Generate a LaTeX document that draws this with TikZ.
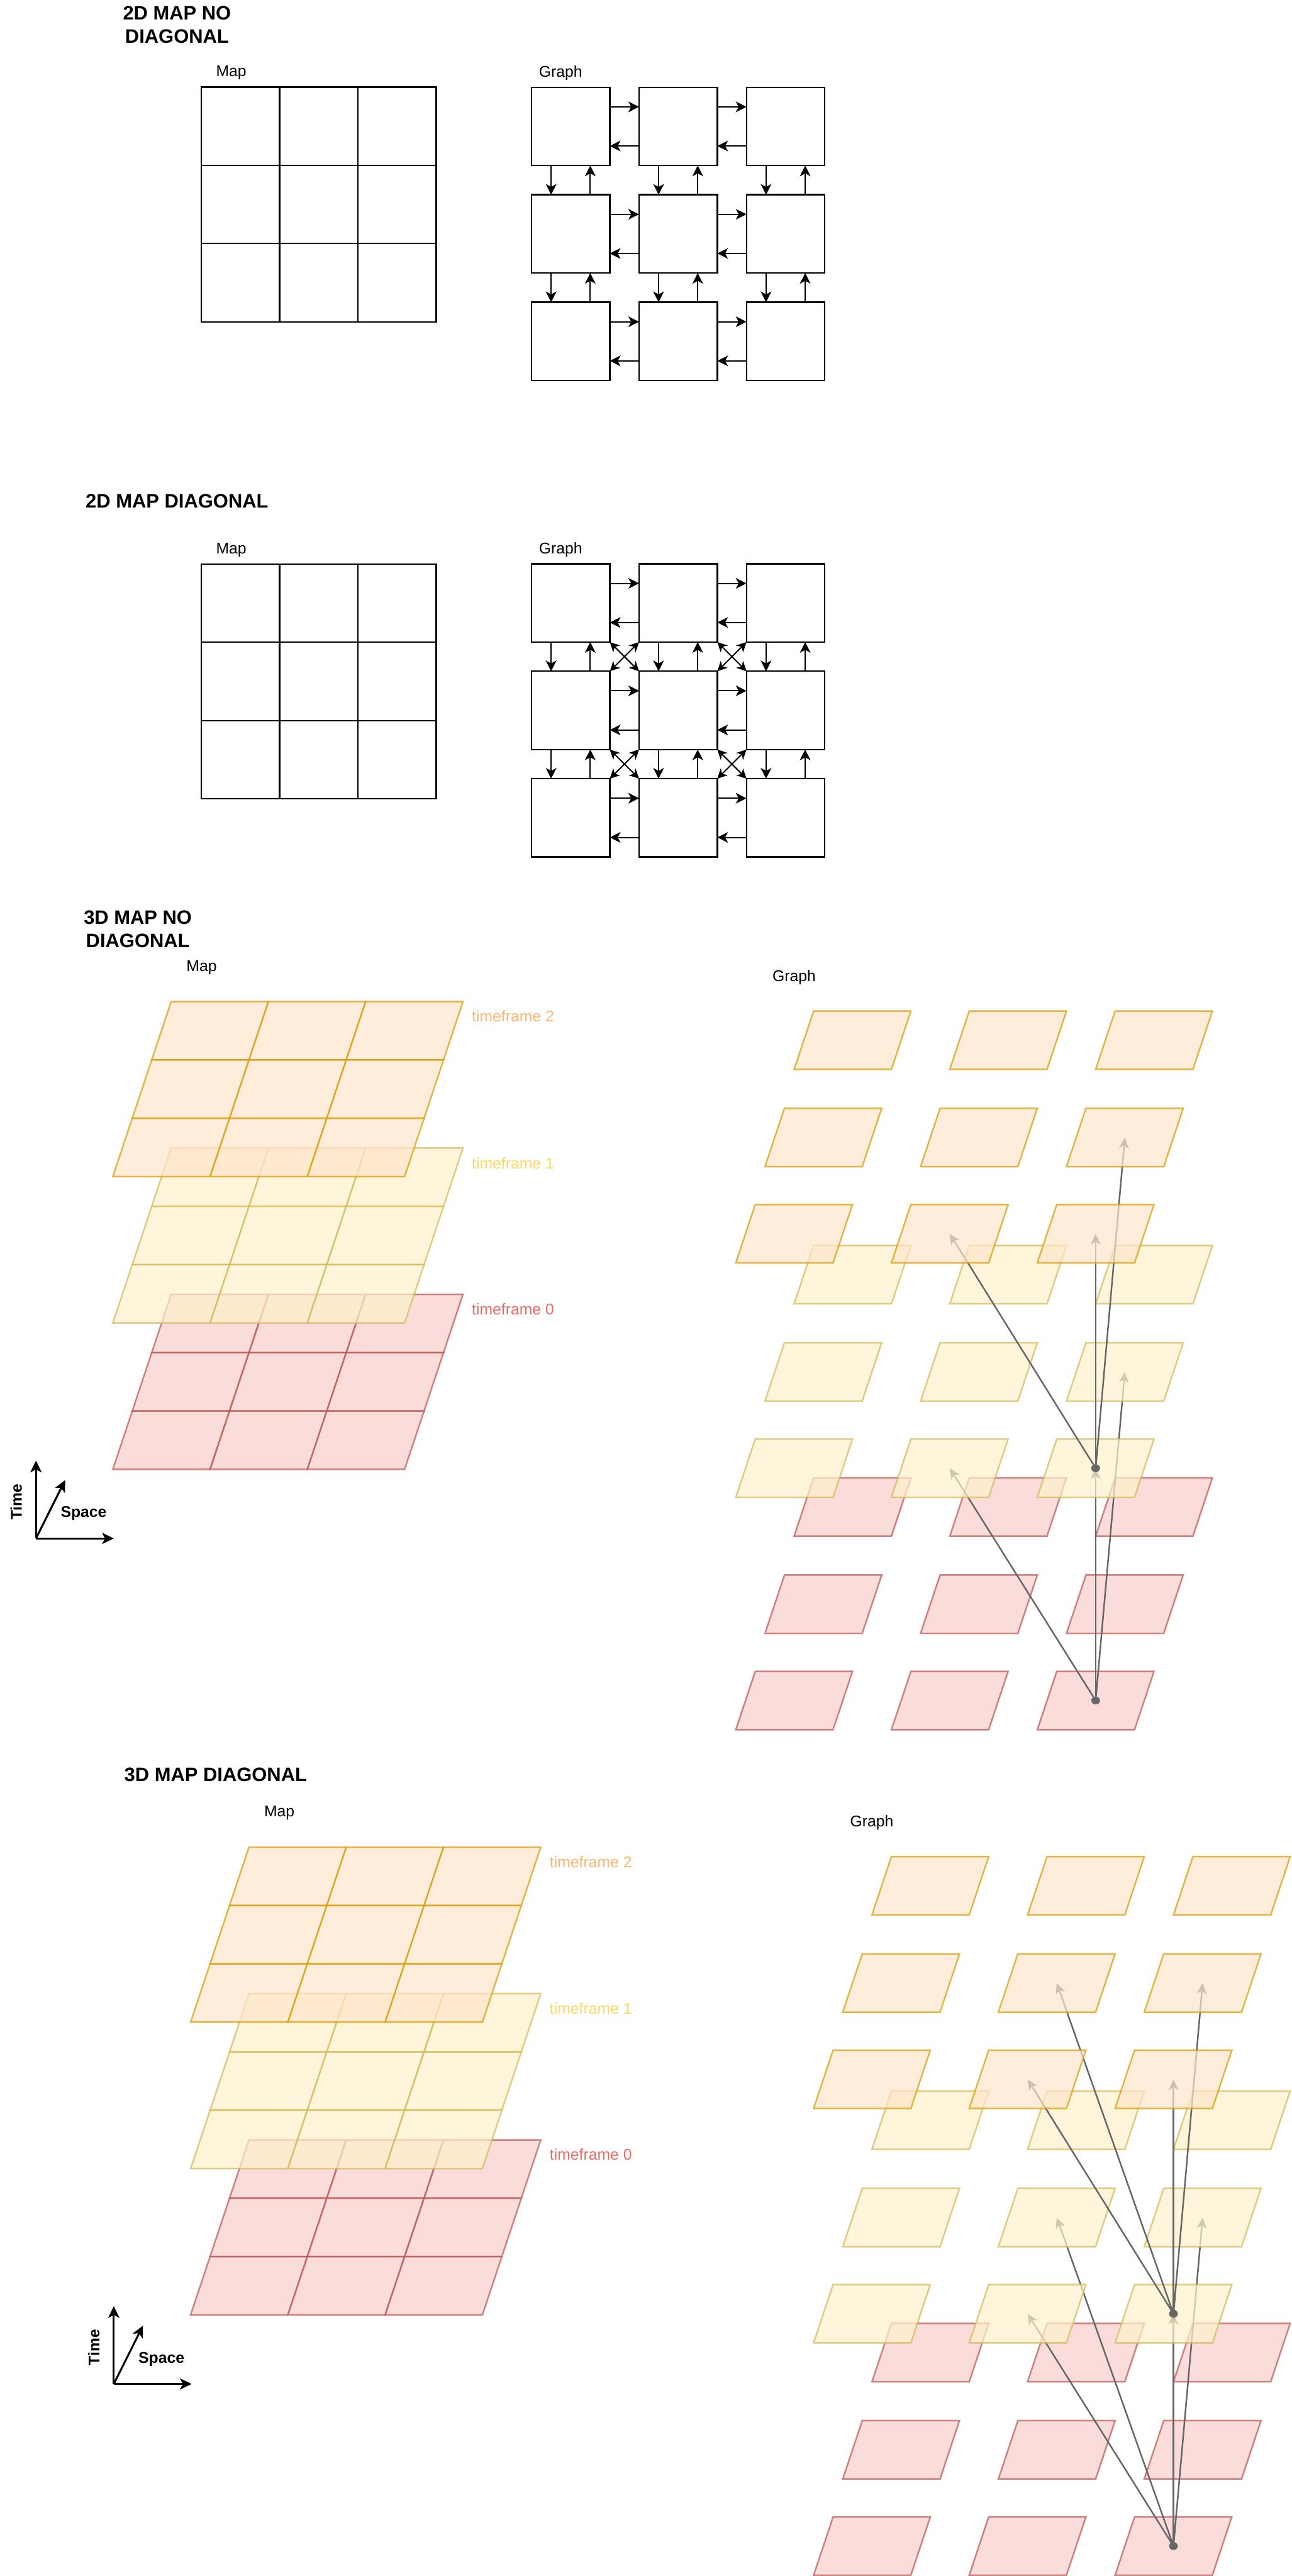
\documentclass[tikz,border=0pt]{standalone}
\usepackage{fontspec}
\setmainfont{Liberation Sans}
\usetikzlibrary{arrows.meta,calc}
\definecolor{ofill}{HTML}{FFE6CC}\definecolor{ostroke}{HTML}{D79B00}
\definecolor{yfill}{HTML}{FFF2CC}\definecolor{ystroke}{HTML}{D6B656}
\definecolor{rfill}{HTML}{F8CECC}\definecolor{rstroke}{HTML}{B85450}
\definecolor{tftwo}{HTML}{FFB570}\definecolor{tfone}{HTML}{FFD966}\definecolor{tfzero}{HTML}{EA6B66}
\definecolor{gline}{HTML}{666666}
\tikzset{
 lbl/.style={font=\fontsize{16}{19}\selectfont, inner sep=0pt, anchor=west, text=black},
 ttl/.style={font=\fontsize{20}{24}\selectfont\bfseries, align=center, inner sep=0pt},
 gbox/.style={draw=black, fill=white, line width=1.5pt, minimum size=80.5pt, inner sep=0pt, outer sep=0pt},
 mapline/.style={draw=black, line width=1.5pt},
 arr/.style={draw=black, line width=1.3pt, -{Stealth[length=11pt,width=11pt,inset=3pt]}},
 darr/.style={draw=black, line width=1.3pt, {Stealth[length=10pt,width=10pt,inset=3pt]}-{Stealth[length=10pt,width=10pt,inset=3pt]}},
 cellst/.style={line width=1.6pt, opacity=0.7, line join=miter},
 garr/.style={draw=gline, line width=1.6pt, -{Stealth[length=11pt,width=10pt,inset=3pt]}},
 axarr/.style={draw=black, line width=2pt, -{Stealth[length=12pt,width=11.5pt,inset=3pt]}},
 axlbl/.style={font=\fontsize{16}{19}\selectfont\bfseries, inner sep=0pt},
}
% 2D graph: #1 prefix, #2 y offset, #3 diagonal flag
\newcommand\twodgraph[3]{%
 \foreach \rI in {0,1,2}{\foreach \cI in {0,1,2}{%
   \node[gbox] (#1\rI\cI) at ({586.75+110.5*\cI},{130+#2+110.5*\rI}) {};}}
 \foreach \rI in {0,1,2}{\foreach \cI [evaluate=\cI as \cJ using {int(\cI+1)}] in {0,1}{%
   \draw[arr] ($(#1\rI\cI.north east)!.25!(#1\rI\cI.south east)$) -- ($(#1\rI\cJ.north west)!.25!(#1\rI\cJ.south west)$);
   \draw[arr] ($(#1\rI\cJ.north west)!.75!(#1\rI\cJ.south west)$) -- ($(#1\rI\cI.north east)!.75!(#1\rI\cI.south east)$);}}
 \foreach \rI [evaluate=\rI as \rJ using {int(\rI+1)}] in {0,1}{\foreach \cI in {0,1,2}{%
   \draw[arr] ($(#1\rI\cI.south west)!.25!(#1\rI\cI.south east)$) -- ($(#1\rJ\cI.north west)!.25!(#1\rJ\cI.north east)$);
   \draw[arr] ($(#1\rJ\cI.north west)!.75!(#1\rJ\cI.north east)$) -- ($(#1\rI\cI.south west)!.75!(#1\rI\cI.south east)$);}}
 \ifnum#3=1
 \foreach \rI [evaluate=\rI as \rJ using {int(\rI+1)}] in {0,1}{\foreach \cI [evaluate=\cI as \cJ using {int(\cI+1)}] in {0,1}{%
   \draw[darr] (#1\rI\cI.south east) -- (#1\rJ\cJ.north west);
   \draw[darr] (#1\rI\cJ.south west) -- (#1\rJ\cI.north east);}}
 \fi
}
% 2D map grid
\newcommand\twodmap[1]{%
 \foreach \mi in {0,1,2}{\foreach \mj in {0,1,2}{%
   \draw[mapline] ({207+80.5*\mj},{#1+80.5*\mi}) rectangle ++(80.5,80.5);}}}
% 3D map layer: #1 top y, #2 fill, #3 stroke
\newcommand\mlayer[3]{%
 \foreach \mi in {0,1,2}{\foreach \mj in {0,1,2}{%
   \path[cellst, fill=#2, draw=#3] ({176-20*\mi+100*\mj},{#1+60*\mi}) -- ++(100,0) -- ++(-20,60) -- ++(-100,0) -- cycle;}}}
% 3D graph cell centres: #1 prefix, #2 layer letter, #3 top y
\newcommand\gcoords[3]{%
 \foreach \mi/\dy/\rx in {0/0/836.5,1/100/806.5,2/199/776.5}{\foreach \mj/\cx in {0/0,1/160,2/310}{%
   \coordinate (#1#2\mi\mj) at ({\rx+\cx+40},{#3+\dy+30});}}}
% 3D graph layer cells: #1 top y, #2 fill, #3 stroke
\newcommand\glayer[3]{%
 \foreach \mi/\dy/\rx in {0/0/836.5,1/100/806.5,2/199/776.5}{\foreach \mj/\cx in {0/0,1/160,2/310}{%
   \path[cellst, fill=#2, draw=#3] ({\rx+\cx},{#1+\dy}) -- ++(100,0) -- ++(-20,60) -- ++(-100,0) -- cycle;}}}
% 3D section: #1 prefix, #2 title, #3 diagonal flag
\newcommand\tdsec[3]{%
 \node[ttl] (#1title) at (141.75,955.25) {#2};
 \node[lbl] (#1map) at (191.5,995) {Map};
 \mlayer{1331}{rfill}{rstroke}
 \mlayer{1180.5}{yfill}{ystroke}
 \mlayer{1030}{ofill}{ostroke}
 \node[lbl, text=tftwo] (#1tftwo) at (485,1045) {timeframe 2};
 \node[lbl, text=tfone] (#1tfone) at (485,1196) {timeframe 1};
 \node[lbl, text=tfzero] (#1tfzero) at (485,1346) {timeframe 0};
 \coordinate (#1ax) at (37,1582);
 \coordinate (#1axt) at (37,1502);
 \coordinate (#1axs) at (117,1582);
 \coordinate (#1axd) at (67,1522);
 \draw[axarr] (#1ax) -- (#1axt);
 \draw[axarr] (#1ax) -- (#1axs);
 \draw[axarr] (#1ax) -- (#1axd);
 \node[axlbl, rotate=90] (#1time) at (16.6,1544.5) {Time};
 \node[axlbl] (#1space) at (86,1556.5) {Space};
 \node[lbl] (#1graph) at (794,1005) {Graph};
 \gcoords{#1}{r}{1519.7}
 \gcoords{#1}{y}{1280.8}
 \gcoords{#1}{o}{1039.7}
 \glayer{1519.7}{rfill}{rstroke}
 \draw[garr] (#1r22) -- (#1y21);
 \draw[garr] (#1r22) -- (#1y22);
 \draw[garr] (#1r22) -- (#1y12);
 \ifnum#3=1 \draw[garr] (#1r22) -- (#1y11); \fi
 \fill[gline] (#1r22) circle[x radius=4.5, y radius=4];
 \glayer{1280.8}{yfill}{ystroke}
 \draw[garr] (#1y22) -- (#1o21);
 \draw[garr] (#1y22) -- (#1o22);
 \draw[garr] (#1y22) -- (#1o12);
 \ifnum#3=1 \draw[garr] (#1y22) -- (#1o11); \fi
 \fill[gline] (#1y22) circle[x radius=4.5, y radius=4];
 \glayer{1039.7}{ofill}{ostroke}
}
\begin{document}
\begin{tikzpicture}[x=1pt,y=-1pt]
\useasboundingbox (0,0) rectangle (1328,2649);
\fill[white] (0,0) rectangle (1328,2649);
% Section 1
\node[ttl] (t1) at (182,25.25) {2D MAP NO\\DIAGONAL};
\node[lbl] (m1) at (222,75) {Map};
\node[lbl] (g1) at (554,75) {Graph};
\twodmap{89.5}
\twodgraph{A}{0}{0}
% Section 2
\node[ttl] (t2) at (182,515.4) {2D MAP DIAGONAL};
\node[lbl] (m2) at (222,565.5) {Map};
\node[lbl] (g2) at (554,565.5) {Graph};
\twodmap{580}
\twodgraph{B}{490}{1}
% Section 3
\tdsec{C}{3D MAP NO\\DIAGONAL}{0}
% Section 4
\begin{scope}[shift={(80,869.5)}]
\tdsec{D}{3D MAP DIAGONAL}{1}
\end{scope}
\end{tikzpicture}
\end{document}
